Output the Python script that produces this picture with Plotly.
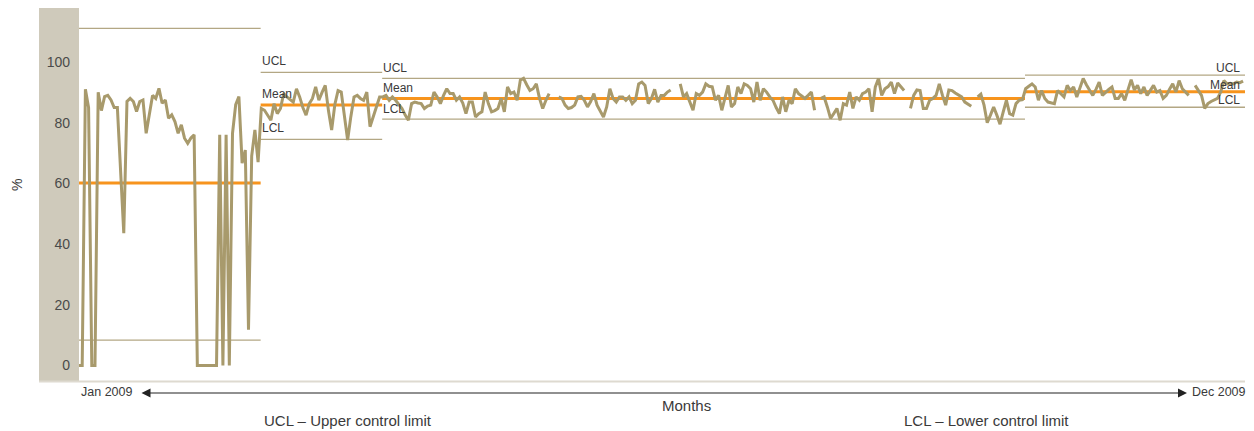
import plotly.graph_objects as go

# ---------------- data (percent, one value per day, None = missing) ----------------
phase1_pct = [0, 0, 91, 85, 0, 0, 90, 84, 88.6, 89,
              87.5, 85, 85, 64, 43.6, 87, 88, 87, 83.7, 87,
              87.5, 76.5, 83, 89, 88, 91.3, 86.4, 87.5, 81.5, 82.6,
              80.4, 76.5, 79.3, 74.9, 73.2, 75, 76, 0, 0, 0,
              0, 0, 0, 0, 76, 0, 76, 0, 76.5, 86,
              88.6, 66.7, 71, 11.8, 69, 77.6, 67]

phase2_pct = [84.7, 84.1, 82.5, 80.8, 86.3, 83, 84.7, 89.6, 88.5, 87.5,
              86.8, 91.2, 88.5, 85, 82.5, 86.3, 88, 91.8, 87.4, 90,
              92.3, 84, 77.6, 86, 90.6, 90.1, 82, 74.3, 82, 88.5,
              89, 88, 87.4, 90.1, 78.7, 82, 84.7, 88.5]

phase3_pct = [88.5, 89, 87.4, 88.5, 87.4, 86, 84.7, 82.5, 80.8, 86.3,
              86.8, 86.5, 86.3, 84.7, 85.5, 85.8, 90.1, 88.5, 86.3, 89,
              91.2, 89.6, 89.6, 87.4, 88.5, 86.5, 83, 86.8, 86.8, 81.9,
              83, 83.6, 90.1, 86.3, 83.6, 84, 84.7, 88, 83.6, 91.8,
              89.6, 90.1, 87.4, 94, 94.6, 92.5, 90.6, 91.2, 92.8, 88,
              84.7, 87.4, 89.6,
              None, None,
              88.5, 88, 85.8, 84.7, 85, 85.8, 88.5, 88.7, 87.4, 85.2,
              87, 89.6, 85.8, 83.6, 81.9, 85.2, 91.2, 88, 86.8, 88.5,
              88.5, 87.4, 88.5, 86.3, 87.4, 92.8, 93.4, 92.3, 86.3, 88,
              91, 86.8, 89, 89, 90.1, 90.8,
              None, None,
              92.8, 88.5, 89.6, 86.5, 84.1, 89.6, 89, 90.1, 92.8, 92,
              91.8, 87.4, 89, 84.1, 88.5, 92.3, 85.2, 86.3, 91.8, 89.6,
              92.8, 92.3, 91.2, 86.8, 93.4, 87.4, 91.2, 90.1, 88.5, 87.4,
              85, 83, 88.5, 83.6, 87.4, 86.3, 91.2, 89.6, 88.8, 88,
              89, 90.1, 84.1,
              None,
              88, 88.5, 85.2, 81.4, 83, 84.7, 80.8, 86.3, 85.8, 90.1,
              84.7, 88.5, 87.4, 89.6, 90.1, 91.2, 83.6, 91.8, 94.6, 89,
              91.2, 91.9, 93.4, 89.6, 93.1, 91.8, 90.6,
              None,
              84.7, 89, 90.8, 90.6, 84.7, 84.7, 87.4, 88, 89, 92.8,
              89, 85.8, 90.8, 90.6, 89.8, 89.2, 88.5, 86.8, 86, 85.4,
              None,
              88.5, 89.4, 85.8, 80, 82.5, 85.2, 82.5, 79.5, 83.6, 87.4,
              83, 82.5, 86.3, 87.4, 87.6]

phase4_pct = [91.2, 92, 92.8, 91.8, 87.4, 90.6, 88, 86.8, 86.5, 86.3,
              90.6, 89.5, 88.5, 92.3, 90.6, 91.8, 88.5, 91.5, 94.6, 92.5,
              90.6, 89, 91, 93.4, 89, 90.1, 91, 91.8, 88, 88,
              89.6, 87.4, 90.6, 94.2, 90.8, 92.3, 89.6, 91.8, 89, 90.5,
              92.3, 90.1, 90.6, 88, 89, 91, 92.8, 90.1, 93.9, 91.2,
              90, 89, None, 92.3, 90.5, 89, 84.7, 86.3, 87, 87.4,
              88, 90.1, 93.9, 92.8, 93, 92.8, 93.4, 93.2, 93.7]

phase_ucl = [111.1, 96.6, 94.6, 95.7]
phase_mean = [60.1, 85.8, 88.0, 90.2]
phase_lcl = [8.4, 74.5, 81.2, 85.1]

y_ticks = [0, 20, 40, 60, 80, 100]
start_label = "Jan 2009"
end_label = "Dec 2009"
x_title = "Months"
y_title = "%"
ucl_note = "UCL – Upper control limit"
lcl_note = "LCL – Lower control limit"

# ---------------- build ----------------
phases = [phase1_pct, phase2_pct, phase3_pct, phase4_pct]
values = [v for p in phases for v in p]
days = list(range(len(values)))
starts = []
acc = 0
for p in phases:
    starts.append(acc)
    acc += len(p)

X_MAX = len(values) - 0.4
LINE_COL = "#a89a6c"
LIM_COL = "#b3a784"
MEAN_COL = "#f7941d"
TXT = "#3a3a3a"
FONT = "Liberation Sans, Arial, sans-serif"

fig = go.Figure()

label_side = [None, "left", "left", "right"]
label_shift = [0, 11, 10, 7]
annotations = []

for i in range(len(phases)):
    x0 = 0 if i == 0 else starts[i] - 0.2
    x1 = X_MAX if i == len(phases) - 1 else starts[i + 1] - 0.2
    for val, col, w in ((phase_ucl[i], LIM_COL, 1.3),
                        (phase_lcl[i], LIM_COL, 1.3),
                        (phase_mean[i], MEAN_COL, 3)):
        fig.add_trace(go.Scatter(x=[x0, x1], y=[val, val], mode="lines",
                                 line=dict(color=col, width=w),
                                 hoverinfo="skip", showlegend=False))
    side = label_side[i]
    if side:
        for txt, val in (("UCL", phase_ucl[i]), ("Mean", phase_mean[i]), ("LCL", phase_lcl[i])):
            annotations.append(dict(
                x=x0 if side == "left" else x1, y=val, xref="x", yref="y",
                text=txt, showarrow=False,
                xanchor="left" if side == "left" else "right", yanchor="middle",
                xshift=-1 if side == "left" else -3, yshift=label_shift[i],
                font=dict(family=FONT, size=12, color=TXT)))

fig.add_trace(go.Scatter(x=days, y=values, mode="lines",
                         line=dict(color=LINE_COL, width=3),
                         connectgaps=False, showlegend=False))

# the page body adds an 8px margin, so the figure is drawn 8px smaller
OFF = 8
PAGE_W, PAGE_H = 1254, 431
W, H = PAGE_W - OFF, PAGE_H - OFF
PL, PR, PT, PB = 79, 1245, 8, 381          # plot area in page pixels
L, T = PL - OFF, PT - OFF
R = W - (PR - OFF)
B = H - (PB - OFF)
pw, ph = PR - PL, PB - PT


def px(xp):
    return (xp - PL) / pw


def py(yp):
    return (PB - yp) / ph


annotations += [
    dict(xref="paper", yref="paper", x=px(79), y=py(392), text=start_label,
         showarrow=False, xanchor="left", yanchor="middle",
         font=dict(family=FONT, size=12.5, color=TXT)),
    dict(xref="paper", yref="paper", x=px(1190), y=py(392), text=end_label,
         showarrow=False, xanchor="left", yanchor="middle",
         font=dict(family=FONT, size=12.5, color=TXT)),
    dict(xref="paper", yref="paper", x=px(686), y=py(405), text=x_title,
         showarrow=False, xanchor="center", yanchor="middle",
         font=dict(family=FONT, size=15, color=TXT)),
    dict(xref="paper", yref="paper", x=px(262), y=py(420), text=ucl_note,
         showarrow=False, xanchor="left", yanchor="middle",
         font=dict(family=FONT, size=15, color=TXT)),
    dict(xref="paper", yref="paper", x=px(902), y=py(420), text=lcl_note,
         showarrow=False, xanchor="left", yanchor="middle",
         font=dict(family=FONT, size=15, color=TXT)),
    dict(xref="paper", yref="paper", x=px(17), y=py(185), text=y_title,
         showarrow=False, xanchor="center", yanchor="middle", textangle=-90,
         font=dict(family=FONT, size=14, color=TXT)),
    dict(xref="paper", yref="paper", x=px(1187), y=py(393),
         ax=-(1187 - 140), ay=0, axref="pixel", ayref="pixel",
         text="", showarrow=True, arrowhead=2, startarrowhead=2,
         arrowside="end+start", arrowsize=1.5, arrowwidth=1.2,
         arrowcolor="#222222", standoff=0, startstandoff=0),
]

shapes = [
    dict(type="rect", xref="paper", yref="paper", x0=px(39), x1=0, y0=0, y1=1,
         fillcolor="#cfcabb", line=dict(width=0), layer="below"),
    dict(type="line", xref="paper", yref="paper", x0=px(39), x1=1, y0=py(381.5), y1=py(381.5),
         line=dict(color="#dedad0", width=2), layer="below"),
]

fig.update_layout(
    width=W, height=H, autosize=False,
    margin=dict(l=L, r=R, t=T, b=B, pad=0),
    paper_bgcolor="white", plot_bgcolor="white",
    showlegend=False,
    annotations=annotations, shapes=shapes,
    xaxis=dict(range=[0, X_MAX], visible=False, showgrid=False, zeroline=False),
    yaxis=dict(range=[-5.1, 117.8], tickvals=y_ticks, showgrid=False, zeroline=False,
               showline=False, ticks="", ticklabelstandoff=8,
               tickfont=dict(family=FONT, size=14, color="#4a4a4a")),
)

fig.write_html("out.html")
